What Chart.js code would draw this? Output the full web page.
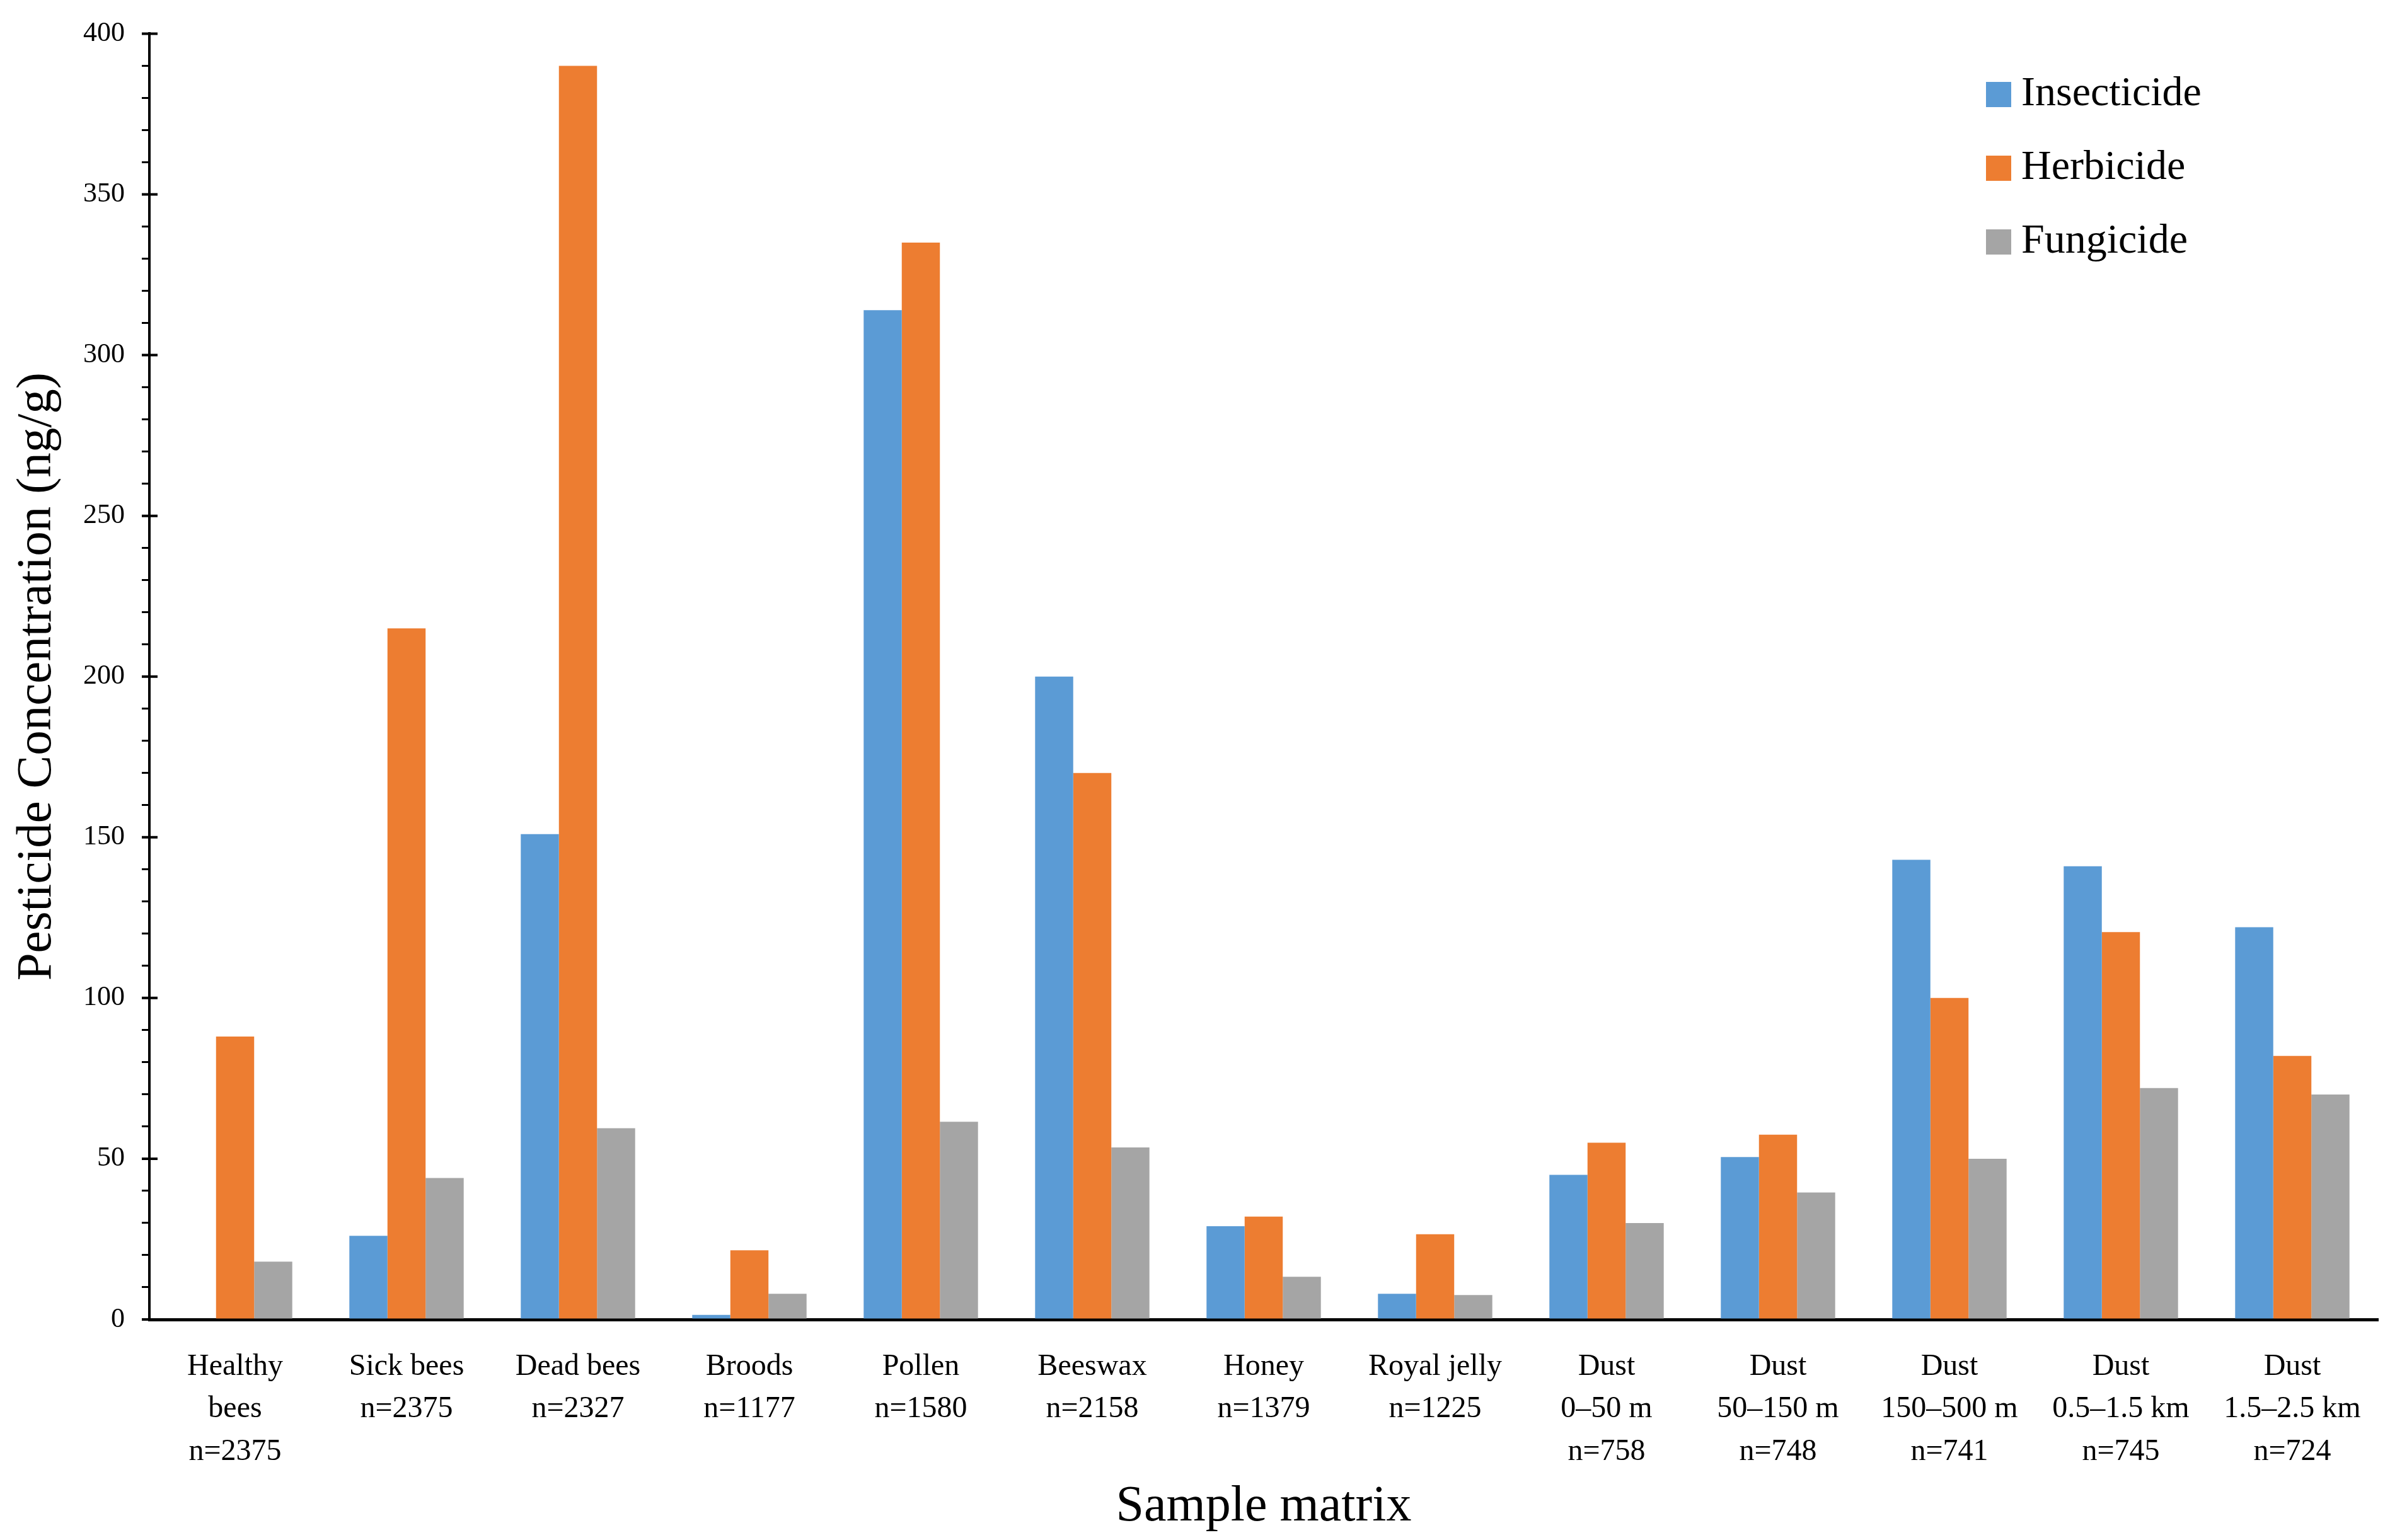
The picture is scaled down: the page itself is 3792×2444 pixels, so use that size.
<!DOCTYPE html>
<html>
<head>
<meta charset="utf-8">
<script src="https://cdn.jsdelivr.net/npm/chart.js@4/dist/chart.umd.min.js"></script>
<style>
  html, body { margin: 0; padding: 0; background: #fff; }
  #wrap { width: 3792px; height: 2444px; }
</style>
</head>
<body>
<div id="wrap"><canvas id="pestChart" width="3792" height="2444"></canvas></div>
<script>
// categories (multi-line labels)
const categories = [
    ['Healthy', 'bees', 'n=2375'],
    ['Sick bees', 'n=2375'],
    ['Dead bees', 'n=2327'],
    ['Broods', 'n=1177'],
    ['Pollen', 'n=1580'],
    ['Beeswax', 'n=2158'],
    ['Honey', 'n=1379'],
    ['Royal jelly', 'n=1225'],
    ['Dust', '0–50 m', 'n=758'],
    ['Dust', '50–150 m', 'n=748'],
    ['Dust', '150–500 m', 'n=741'],
    ['Dust', '0.5–1.5 km', 'n=745'],
    ['Dust', '1.5–2.5 km', 'n=724']
];

const insecticide = [0, 26, 151, 1.4, 314, 200, 29, 8, 45, 50.5, 143, 141, 122];
const herbicide   = [88, 215, 390, 21.5, 335, 170, 32, 26.5, 55, 57.5, 100, 120.5, 82];
const fungicide   = [18, 44, 59.5, 8, 61.5, 53.5, 13.3, 7.6, 30, 39.5, 50, 72, 70];

const yMajorTicks = [0, 50, 100, 150, 200, 250, 300, 350, 400];

const SERIF = '"Liberation Serif", "DejaVu Serif", serif';

// legend drawn in the top right corner, Excel style
const legendBox = {
    id: 'legendBox',
    afterDraw(chart) {
        const ctx = chart.ctx;
        ctx.save();
        chart.data.datasets.forEach((ds, i) => {
            const y = 150 + i * 117;
            ctx.fillStyle = ds.backgroundColor;
            ctx.fillRect(3151, y - 20, 40, 40);
            ctx.fillStyle = '#000';
            ctx.font = '66px ' + SERIF;
            ctx.textBaseline = 'middle';
            ctx.fillText(ds.label, 3207, y);
        });
        ctx.restore();
    }
};

// major ticks cross the y axis
const majorTicks = {
    id: 'majorTicks',
    afterDraw(chart) {
        const y = chart.scales.y;
        const ctx = chart.ctx;
        ctx.save();
        ctx.strokeStyle = '#000';
        ctx.lineWidth = 4;
        ctx.beginPath();
        yMajorTicks.forEach(v => {
            const py = y.getPixelForValue(v);
            ctx.moveTo(y.right - 12, py);
            ctx.lineTo(y.right + 13, py);
        });
        ctx.stroke();
        ctx.restore();
    }
};

const canvas = document.getElementById('pestChart');

new Chart(canvas, {
    type: 'bar',
    data: {
        labels: categories,
        datasets: [
            { label: 'Insecticide', data: insecticide, backgroundColor: '#5B9BD5' },
            { label: 'Herbicide', data: herbicide, backgroundColor: '#ED7D31' },
            { label: 'Fungicide', data: fungicide, backgroundColor: '#A5A5A5' }
        ]
    },
    options: {
        responsive: false,
        animation: false,
        devicePixelRatio: 1,
        categoryPercentage: 0.667,
        barPercentage: 1.0,
        layout: {
            padding: { top: 53, right: 19, bottom: 0, left: 0 }
        },
        scales: {
            x: {
                grid: { display: false, drawTicks: false },
                border: { display: true, color: '#000', width: 5 },
                ticks: {
                    color: '#000',
                    maxRotation: 0,
                    autoSkip: false,
                    padding: 42,
                    font: { family: SERIF, size: 48, lineHeight: 1.4 }
                },
                title: {
                    display: true,
                    text: 'Sample matrix',
                    color: '#000',
                    font: { family: SERIF, size: 80 },
                    padding: { top: 0, bottom: 4 }
                },
                afterFit: s => { s.height = 350; }
            },
            y: {
                min: 0,
                max: 400,
                grid: {
                    drawOnChartArea: false,
                    drawTicks: true,
                    tickLength: 12,
                    color: '#000',
                    lineWidth: 3
                },
                border: { display: true, color: '#000', width: 4 },
                ticks: {
                    stepSize: 10,
                    autoSkip: false,
                    color: '#000',
                    padding: 27,
                    font: { family: SERIF, size: 44 },
                    callback: v => (v % 50 === 0 ? v : '')
                },
                title: {
                    display: true,
                    text: 'Pesticide Concentration (ng/g)',
                    color: '#000',
                    font: { family: SERIF, size: 79 },
                    padding: { top: 12, bottom: 0 }
                },
                afterFit: s => { s.width = 237; }
            }
        },
        plugins: {
            legend: { display: false },
            tooltip: { enabled: false }
        }
    },
    plugins: [legendBox, majorTicks]
});
</script>
</body>
</html>
